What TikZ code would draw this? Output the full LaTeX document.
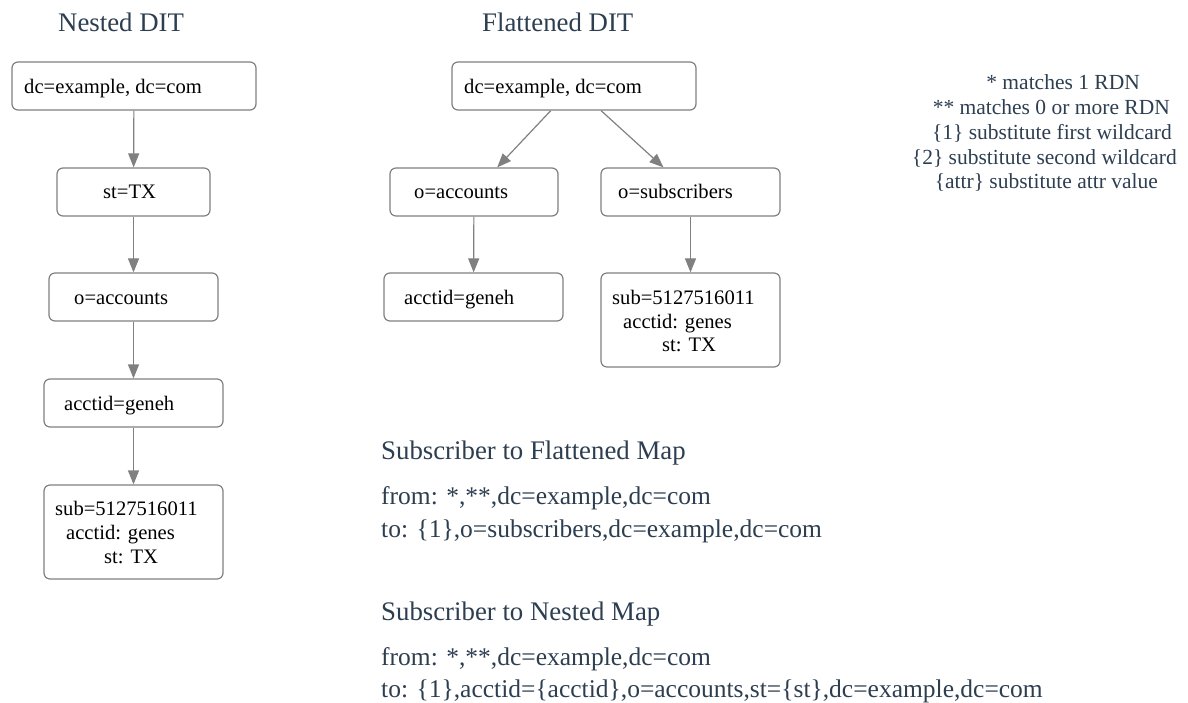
\documentclass[tikz,border=0pt]{standalone}
\usepackage{fontspec}
\setmainfont{Liberation Serif}
\usetikzlibrary{arrows.meta}
\definecolor{slate}{RGB}{44,62,80}
\definecolor{edgegray}{RGB}{128,128,128}
\begin{document}
\begin{tikzpicture}[x=1pt,y=-1pt,
  box/.style={draw=edgegray, line width=1.2pt, rounded corners=6pt, inner sep=0pt},
  lbl/.style={anchor=base west, inner sep=0pt, font=\fontsize{20.6}{24}\selectfont, text=black},
  title/.style={anchor=base west, inner sep=0pt, font=\fontsize{26.8}{32}\selectfont, text=slate},
  maptext/.style={anchor=base west, inner sep=0pt, font=\fontsize{25.5}{33}\selectfont, text=slate},
  legend/.style={anchor=base east, inner sep=0pt, font=\fontsize{21.5}{25}\selectfont, text=slate},
  link/.style={draw=edgegray, line width=1.2pt, -{Triangle[length=14pt,width=11pt]}}]
\useasboundingbox (0,0) rectangle (1188,703);

% titles
\node[title] (tn) at (58,32) {Nested DIT};
\node[title] (tf) at (482,32) {Flattened DIT};

% nested DIT
\node[box, minimum width=244pt, minimum height=48pt] (N1) at (134,86) {};
\node[box, minimum width=153pt, minimum height=48pt] (N2) at (133.5,192) {};
\node[box, minimum width=169pt, minimum height=48pt] (N3) at (133.5,297) {};
\node[box, minimum width=179pt, minimum height=48pt] (N4) at (133.5,403) {};
\node[box, minimum width=179pt, minimum height=94pt] (N5) at (133.5,532) {};
\node[lbl] (N1t) at (24,93.5) {dc=example, dc=com};
\node[lbl] (N2t) at (103,199) {st=TX};
\node[lbl] (N3t) at (74,304) {o=accounts};
\node[lbl] (N4t) at (64,410) {acctid=geneh};
\node[lbl] (N5a) at (55,515) {sub=5127516011};
\node[lbl] (N5b) at (66,539) {acctid: genes};
\node[lbl] (N5c) at (104,563) {st: TX};
\draw[link] (N1) -- (N2);
\draw[link] (N2) -- (N3);
\draw[link] (N3) -- (N4);
\draw[link] (N4) -- (N5);

% flattened DIT
\node[box, minimum width=244pt, minimum height=48pt] (F1) at (574,86) {};
\node[box, minimum width=168pt, minimum height=48pt] (F2) at (474,192) {};
\node[box, minimum width=179pt, minimum height=48pt] (F3) at (690.5,192) {};
\node[box, minimum width=179pt, minimum height=48pt] (F4) at (473.5,297) {};
\node[box, minimum width=179pt, minimum height=94pt] (F5) at (690.5,320) {};
\node[lbl] (F1t) at (464,93.5) {dc=example, dc=com};
\node[lbl] (F2t) at (414,199) {o=accounts};
\node[lbl] (F3t) at (618,199) {o=subscribers};
\node[lbl] (F4t) at (404,304) {acctid=geneh};
\node[lbl] (F5a) at (612,304) {sub=5127516011};
\node[lbl] (F5b) at (623,328) {acctid: genes};
\node[lbl] (F5c) at (662,351) {st: TX};
\draw[link] (F1) -- (F2);
\draw[link] (F1) -- (F3);
\draw[link] (F2) -- (F4);
\draw[link] (F3) -- (F5);

% legend
\node[legend] (L1) at (1140,90) {* matches 1 RDN};
\node[legend] (L2) at (1170,115) {** matches 0 or more RDN};
\node[legend] (L3) at (1172,140) {\{1\} substitute first wildcard};
\node[legend] (L4) at (1177,165) {\{2\} substitute second wildcard};
\node[legend] (L5) at (1158,189) {\{attr\} substitute attr value};

% maps
\node[title] (S1) at (381,459) {Subscriber to Flattened Map};
\node[maptext] (S1f) at (381,504) {from: *,**,dc=example,dc=com};
\node[maptext] (S1t) at (381,537) {to: \{1\},o=subscribers,dc=example,dc=com};
\node[title] (S2) at (381,620) {Subscriber to Nested Map};
\node[maptext] (S2f) at (381,665) {from: *,**,dc=example,dc=com};
\node[maptext] (S2t) at (381,697) {to: \{1\},acctid=\{acctid\},o=accounts,st=\{st\},dc=example,dc=com};
\end{tikzpicture}
\end{document}
